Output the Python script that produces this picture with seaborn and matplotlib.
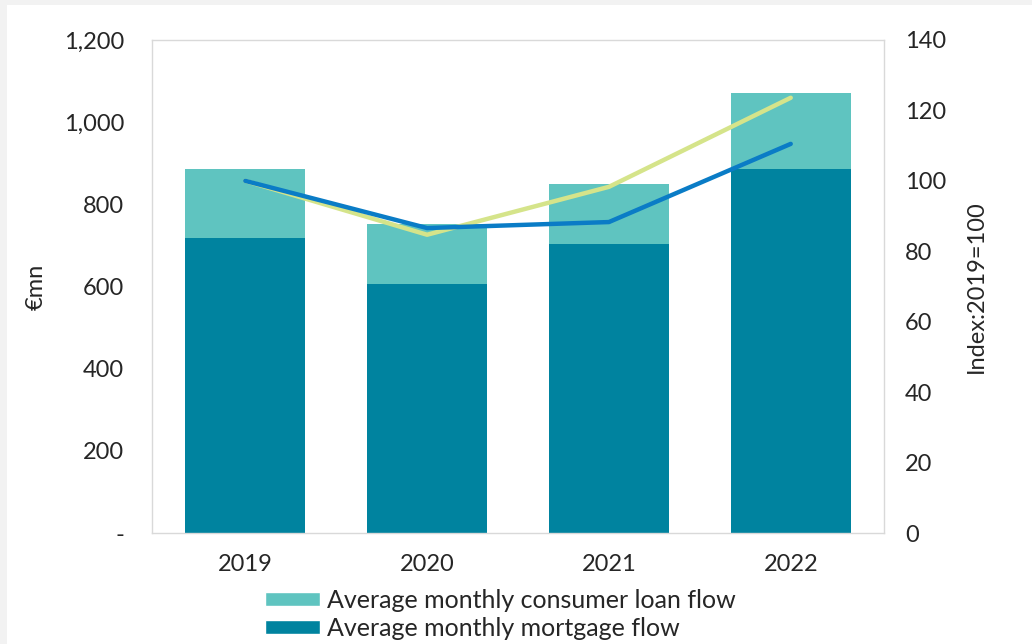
import pandas as pd
import seaborn as sns
import matplotlib.pyplot as plt
from matplotlib.patches import Patch, Rectangle

# Data
years = ["2019", "2020", "2021", "2022"]
mortgage_flow = [718, 606, 703, 886]
total_flow = [886, 752, 849, 1071]
mortgage_index = [100, 84.7, 98.3, 123.6]
consumer_index = [100, 86.6, 88.3, 110.5]

dark_teal = "#00839F"
light_teal = "#5FC4C0"
green = "#D5E48A"
blue = "#0A7CC6"

sns.set_theme(style="white")
plt.rcParams["font.family"] = ["Lato", "DejaVu Sans"]

df = pd.DataFrame({
    "Year": years,
    "Mortgage": mortgage_flow,
    "Total": total_flow,
    "MortIdx": mortgage_index,
    "ConsIdx": consumer_index,
})

fig = plt.figure(figsize=(10.32, 6.44), dpi=100, facecolor="#F2F2F2")
fig.patches.append(Rectangle((7 / 1032, 0), 1, 1 - 5 / 644, transform=fig.transFigure,
                             facecolor="white", edgecolor="none", zorder=-10))
ax = fig.add_axes([152 / 1032, 1 - 533 / 644, 732 / 1032, 493 / 644])

# Stacked bars: draw totals (consumer on top) then mortgages
sns.barplot(data=df, x="Year", y="Total", color=light_teal, width=0.66,
            saturation=1, linewidth=0, ax=ax)
sns.barplot(data=df, x="Year", y="Mortgage", color=dark_teal, width=0.66,
            saturation=1, linewidth=0, ax=ax)

ax.set_ylim(0, 1200)
ax.set_yticks(range(0, 1201, 200))
ax.set_yticklabels(["-"] + [f"{v:,}" for v in range(200, 1201, 200)])
ax.set_xlabel("")
ax.set_ylabel("€mn", fontsize=17, labelpad=12)
ax.tick_params(axis="y", labelsize=17, length=0, pad=20)
ax.tick_params(axis="x", labelsize=17, length=0, pad=15)
for s in ax.spines.values():
    s.set_color("#D9D9D9")
    s.set_linewidth(1)

ax2 = ax.twinx()
sns.lineplot(data=df, x="Year", y="MortIdx", color=green, linewidth=3.2,
             ax=ax2, solid_capstyle="round")
sns.lineplot(data=df, x="Year", y="ConsIdx", color=blue, linewidth=3.2,
             ax=ax2, solid_capstyle="round")
ax2.set_ylim(0, 140)
ax2.set_yticks(range(0, 141, 20))
ax2.set_ylabel("Index:2019=100", fontsize=17, labelpad=14)
ax2.tick_params(axis="y", labelsize=17, length=0, pad=15)
for s in ax2.spines.values():
    s.set_visible(False)

handles = [Patch(facecolor=light_teal, label="Average monthly consumer loan flow"),
           Patch(facecolor=dark_teal, label="Average monthly mortgage flow")]
fig.legend(handles=handles, loc="upper center", bbox_to_anchor=(0.485, 0.086),
           frameon=False, fontsize=18, handlelength=2.2, handleheight=0.5,
           handletextpad=0.3, labelspacing=0.2, borderaxespad=0, borderpad=0)

fig.savefig("out.png", dpi=100, facecolor=fig.get_facecolor())
